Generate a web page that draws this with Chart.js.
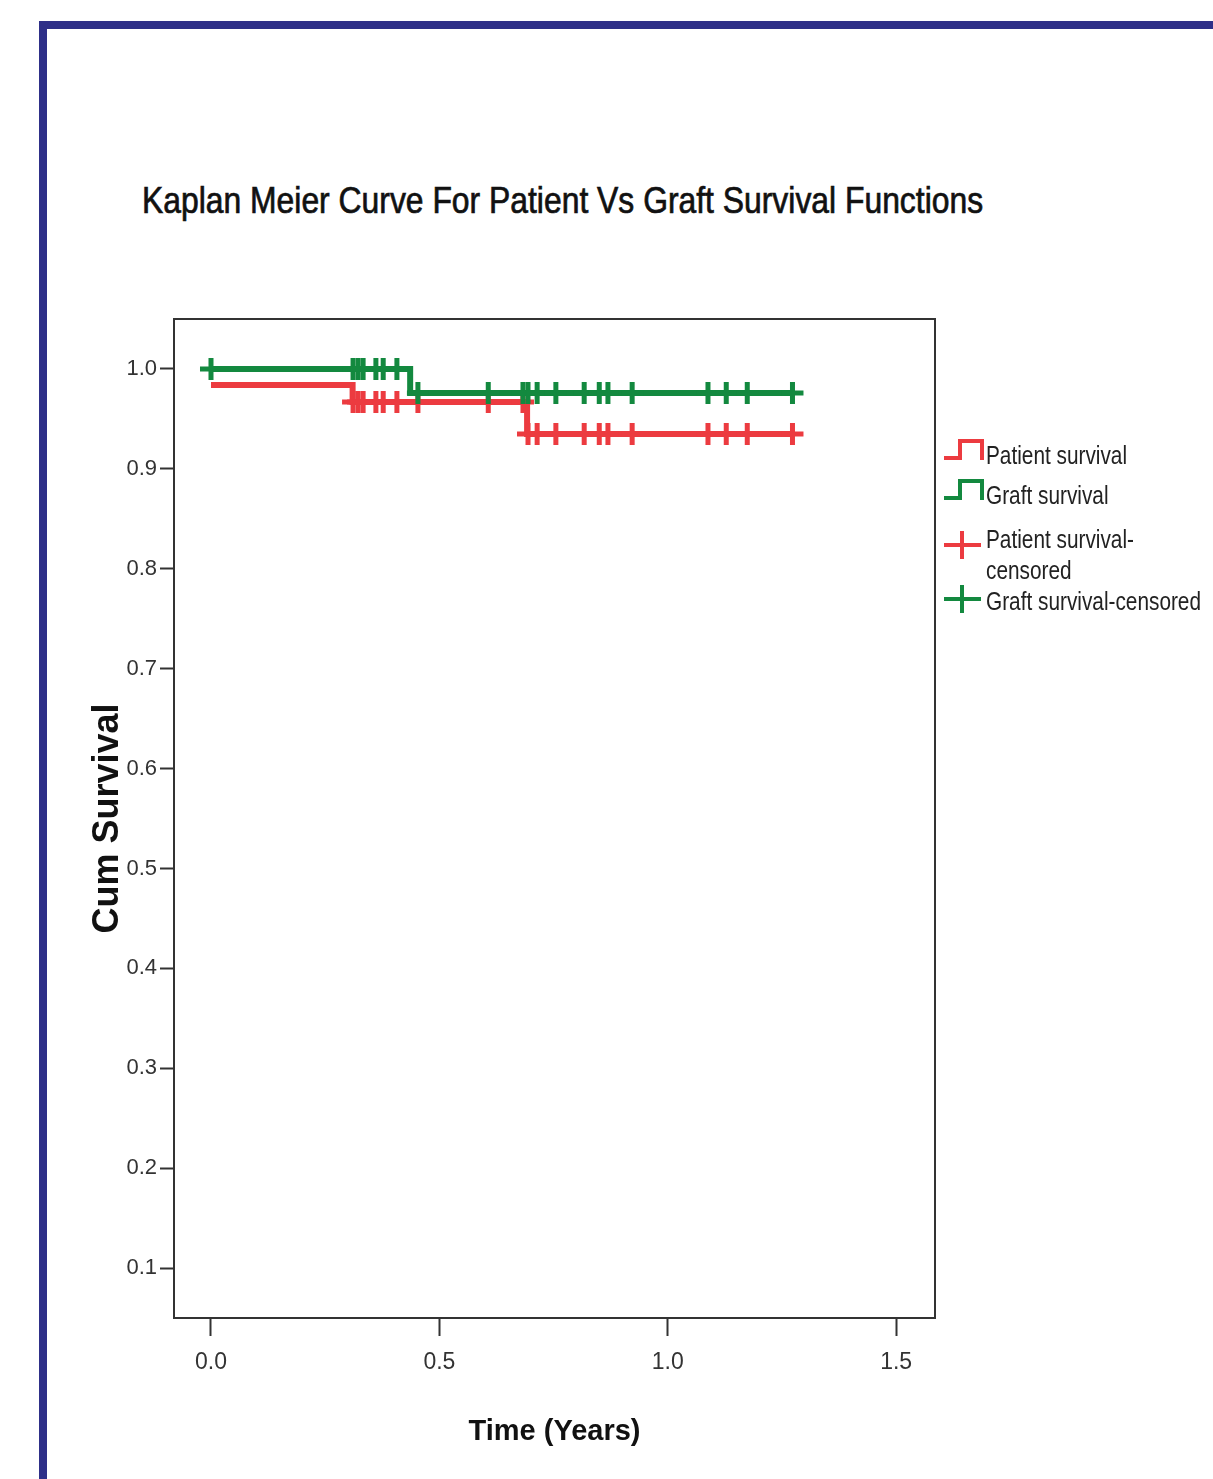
<!DOCTYPE html>
<html>
<head>
<meta charset="utf-8">
<script src="https://cdn.jsdelivr.net/npm/chart.js@4.4.1/dist/chart.umd.min.js"></script>
<style>
    html, body { margin: 0; padding: 0; background: #fff; overflow: hidden; }
    body { width: 1213px; height: 1479px; position: relative; font-family: 'Liberation Sans Narrow', 'Arial Narrow', 'Liberation Sans', sans-serif; }
    #frame { position: absolute; left: 39px; top: 21px; right: -10px; bottom: -10px; border-left: 8px solid #2e2f88; border-top: 8px solid #2e2f88; }
    #title { position: absolute; left: 142px; top: 180px; font-size: 36px; color: #111; white-space: nowrap; -webkit-text-stroke: 0.7px #111; transform: scaleX(0.885); transform-origin: left top; }
    #chartBox { position: absolute; left: 0; top: 0; width: 1213px; height: 1479px; }
    #legend { position: absolute; left: 943px; top: 436px; font-size: 26px; color: #222; }
    .item { position: relative; height: 40px; white-space: nowrap; }
    .item svg { position: absolute; left: 0; top: 0; }
    .item span { position: absolute; left: 43px; top: 4px; line-height: 31px; transform: scaleX(0.8); transform-origin: left top; }
</style>
</head>
<body>
<div id="frame"></div>
<div id="title">Kaplan Meier Curve For Patient Vs Graft Survival Functions</div>
<div id="chartBox"><canvas id="kmChart" width="1213" height="1479"></canvas></div>
<div id="legend">
    <div class="item" style="top:0">
        <svg width="44" height="30"><polyline points="1,22 17,22 17,5 39,5 39,24" fill="none" stroke="#ec3b40" stroke-width="4"/></svg>
        <span>Patient survival</span>
    </div>
    <div class="item" style="top:0">
        <svg width="44" height="30"><polyline points="1,22 17,22 17,5 39,5 39,24" fill="none" stroke="#13893f" stroke-width="4"/></svg>
        <span>Graft survival</span>
    </div>
    <div class="item" style="top:4px; height:72px">
        <svg width="44" height="40" style="top:10px"><line x1="1" y1="15" x2="38" y2="15" stroke="#ec3b40" stroke-width="4"/><line x1="19" y1="1" x2="19" y2="29" stroke="#ec3b40" stroke-width="4"/></svg>
        <span>Patient survival-<br>censored</span>
    </div>
    <div class="item" style="top:0">
        <svg width="44" height="40" style="top:-6px"><line x1="1" y1="17" x2="38" y2="17" stroke="#13893f" stroke-width="4"/><line x1="19" y1="3" x2="19" y2="31" stroke="#13893f" stroke-width="4"/></svg>
        <span style="top:-2px">Graft survival-censored</span>
    </div>
</div>
<script>
    const TICK_FONT = "'Liberation Sans Narrow', 'Arial Narrow', 'Liberation Sans', sans-serif"

    // Kaplan Meier steps (time in years, cumulative survival)
    const patientTimes = [0, 0.31, 0.692, 1.273]
    const patientSurvival = [0.984, 0.967, 0.935, 0.935]
    const graftTimes = [0, 0.436, 1.273]
    const graftSurvival = [1.0, 0.976, 0.976]

    // Censored observations
    const patientCensored = [0.311, 0.322, 0.333, 0.361, 0.377, 0.407, 0.453, 0.607, 0.683, 0.694, 0.714, 0.755, 0.817, 0.850, 0.869, 0.922, 1.088, 1.128, 1.174, 1.273]
    const graftCensored = [0, 0.311, 0.322, 0.333, 0.361, 0.377, 0.407, 0.453, 0.607, 0.683, 0.694, 0.714, 0.755, 0.817, 0.850, 0.869, 0.922, 1.088, 1.128, 1.174, 1.273]

    // Axis ticks
    const xTicks = [0, 0.5, 1.0, 1.5]
    const yTicks = [0.1, 0.2, 0.3, 0.4, 0.5, 0.6, 0.7, 0.8, 0.9, 1.0]

    const RED = '#ec3b40'
    const GREEN = '#13893f'

    function toPoints(times, values) {
        return times.map((t, i) => ({ x: t, y: values[i] }))
    }

    // survival value of the step curve at time t
    function survivalAt(times, values, t) {
        let v = values[0]
        for (let i = 0; i < times.length; i++) {
            if (times[i] <= t) v = values[i]
        }
        return v
    }

    function censorPoints(censored, times, values) {
        return censored.map(t => ({ x: t, y: survivalAt(times, values, t) }))
    }

    // box round the plot area
    const frameBox = {
        id: 'frameBox',
        afterDraw(chart) {
            const { ctx, chartArea } = chart
            ctx.save()
            ctx.strokeStyle = '#333'
            ctx.lineWidth = 2
            ctx.strokeRect(chartArea.left, chartArea.top, chartArea.right - chartArea.left, chartArea.bottom - chartArea.top)
            ctx.restore()
        }
    }

    new Chart(document.getElementById('kmChart'), {
        type: 'line',
        data: {
            datasets: [
                {
                    label: 'Patient survival',
                    data: toPoints(patientTimes, patientSurvival),
                    borderColor: RED,
                    borderWidth: 6,
                    stepped: 'before',
                    pointRadius: 0,
                    order: 4
                },
                {
                    label: 'Patient survival-censored',
                    data: censorPoints(patientCensored, patientTimes, patientSurvival),
                    showLine: false,
                    pointStyle: 'cross',
                    pointRadius: 11,
                    pointBorderWidth: 5,
                    borderColor: RED,
                    backgroundColor: RED,
                    order: 3
                },
                {
                    label: 'Graft survival',
                    data: toPoints(graftTimes, graftSurvival),
                    borderColor: GREEN,
                    borderWidth: 6,
                    stepped: 'before',
                    pointRadius: 0,
                    order: 2
                },
                {
                    label: 'Graft survival-censored',
                    data: censorPoints(graftCensored, graftTimes, graftSurvival),
                    showLine: false,
                    pointStyle: 'cross',
                    pointRadius: 11,
                    pointBorderWidth: 5,
                    borderColor: GREEN,
                    backgroundColor: GREEN,
                    order: 1
                }
            ]
        },
        options: {
            responsive: false,
            animation: false,
            layout: { padding: { left: 86, top: 319, right: 278, bottom: 30 } },
            plugins: {
                legend: { display: false },
                tooltip: { enabled: false }
            },
            scales: {
                x: {
                    type: 'linear',
                    min: -0.081,
                    max: 1.585,
                    afterFit: s => { s.height = 131 },
                    afterBuildTicks: s => { s.ticks = xTicks.map(v => ({ value: v })) },
                    grid: { drawOnChartArea: false, tickLength: 18, tickWidth: 2, color: '#333' },
                    border: { display: false },
                    ticks: {
                        padding: 13,
                        color: '#333',
                        font: { family: TICK_FONT, size: 23 },
                        callback: v => v.toFixed(1)
                    },
                    title: {
                        display: true,
                        text: 'Time (Years)',
                        color: '#111',
                        padding: 0,
                        font: { family: TICK_FONT, size: 29, weight: 'bold' }
                    }
                },
                y: {
                    min: 0.05,
                    max: 1.05,
                    afterFit: s => { s.width = 88 },
                    afterBuildTicks: s => { s.ticks = yTicks.map(v => ({ value: v })) },
                    grid: { drawOnChartArea: false, tickLength: 14, tickWidth: 2, color: '#333' },
                    border: { display: false },
                    ticks: {
                        padding: 3,
                        color: '#333',
                        font: { family: TICK_FONT, size: 22 },
                        callback: v => v.toFixed(1)
                    },
                    title: {
                        display: true,
                        text: 'Cum Survival',
                        color: '#111',
                        padding: 0,
                        font: { family: "'Liberation Sans', Arial, sans-serif", size: 36, weight: 'bold' }
                    }
                }
            }
        },
        plugins: [frameBox]
    })
</script>
</body>
</html>
